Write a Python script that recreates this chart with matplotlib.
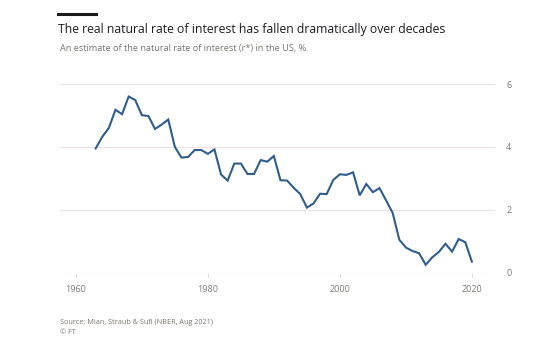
import numpy as np
import matplotlib
matplotlib.use('agg')
import matplotlib.pyplot as plt
from matplotlib.lines import Line2D

years = list(range(1963, 2021))
rstar = [3.95, 4.32, 4.60, 5.18, 5.04, 5.60, 5.49, 5.01, 4.98, 4.57,
         4.71, 4.87, 4.00, 3.66, 3.68, 3.90, 3.90, 3.78, 3.92, 3.12,
         2.93, 3.47, 3.47, 3.14, 3.14, 3.58, 3.53, 3.71, 2.94, 2.93,
         2.70, 2.50, 2.07, 2.20, 2.51, 2.50, 2.95, 3.13, 3.11, 3.19,
         2.46, 2.82, 2.56, 2.69, 2.30, 1.90, 1.05, 0.80, 0.69, 0.62,
         0.25, 0.49, 0.66, 0.92, 0.67, 1.07, 0.97, 0.35]
xticks = [1960, 1980, 2000, 2020]
yticks = [0, 2, 4, 6]

title = "The real natural rate of interest has fallen dramatically over decades"
subtitle = "An estimate of the natural rate of interest (r*) in the US, %"
source = "Source: Mian, Straub & Sufi (NBER, Aug 2021)"

plt.rcParams['font.family'] = ['Open Sans', 'DejaVu Sans']

W, H = 540, 341
fig = plt.figure(figsize=(5.4, 3.41), dpi=100)
fig.patch.set_facecolor('white')

ax = fig.add_axes([60/W, 1-272.7/H, 435/W, 188.7/H])
ax.plot(years, rstar, color='#2f5d8c', lw=1.5, solid_joinstyle='miter', clip_on=False)

ax.set_xlim(1957.6, 2023.5)
ax.set_ylim(0, 6)
ax.set_xticks(xticks)
ax.set_yticks(yticks)
ax.yaxis.tick_right()
ax.grid(axis='y', color='#ebe3e3', lw=0.8)
ax.set_axisbelow(True)
for s in ax.spines.values():
    s.set_visible(False)
ax.tick_params(axis='y', length=0, pad=8, labelsize=6.5, labelcolor='#807a76')
ax.tick_params(axis='x', length=3, width=0.6, color='#d9d2d2', pad=6,
               labelsize=6.5, labelcolor='#807a76')

# header bar and texts
fig.add_artist(Line2D([58/W, 96/W], [1-14/H, 1-14/H], color='#1a1a1a', lw=2.2))
fig.text(58/W, 1-30/H, title, fontsize=8.8, color='#1e1e22', va='center', ha='left')
fig.text(60/W, 1-49/H, subtitle, fontsize=6.6, color='#7a7470', va='center', ha='left')
fig.text(60/W, 1-322/H, source, fontsize=5.2, color='#7a7470', va='center', ha='left')
fig.text(60/W, 1-333/H, "\u00a9 FT", fontsize=5.2, color='#7a7470', va='center', ha='left')

fig.savefig('out.png', dpi=100, facecolor='white')
